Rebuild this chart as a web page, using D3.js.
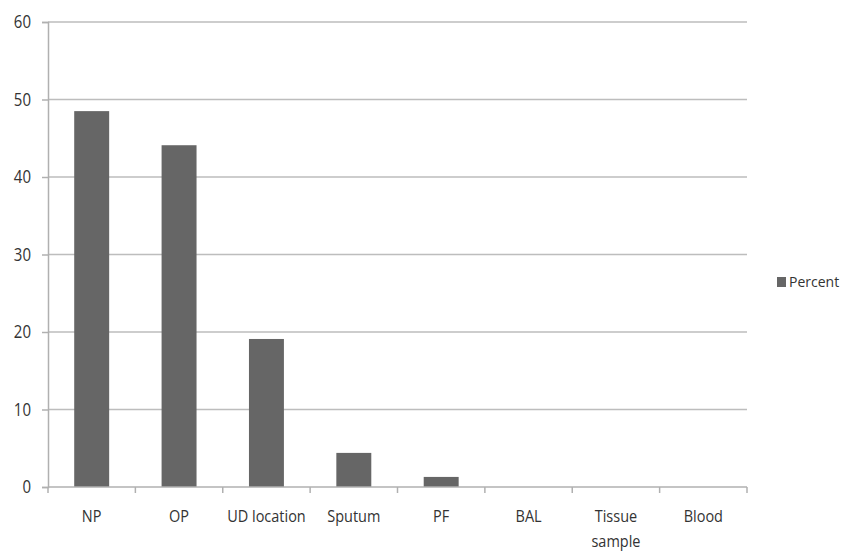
<!DOCTYPE html>
<html>
<head>
<meta charset="utf-8">
<script src="https://cdn.jsdelivr.net/npm/d3@7"></script>
<style>
  html, body { margin: 0; padding: 0; background: #fff; }
  svg { display: block; }
  text { font-family: "Open Sans", "DejaVu Sans", sans-serif; fill: #333333; }
</style>
</head>
<body>
<svg id="chart" width="847" height="551"></svg>
<script>
const categories = ["NP", "OP", "UD location", "Sputum", "PF", "BAL", "Tissue sample", "Blood"];
const percentValues = [48.5, 44.1, 19.1, 4.4, 1.3, 0, 0, 0];
const yTicks = [0, 10, 20, 30, 40, 50, 60];
const seriesName = "Percent";

const svg = d3.select("#chart");
const x0 = 48, x1 = 747, y0 = 487, y1 = 22;
const stretch = 1.18;

const x = d3.scaleBand().domain(categories).range([x0, x1]).paddingInner(0.6).paddingOuter(0.3);
const y = d3.scaleLinear().domain([0, 60]).range([y0, y1]);

// gridlines
svg.append("g").selectAll("line").data(yTicks.filter(d => d > 0)).join("line")
  .attr("x1", x0).attr("x2", x1)
  .attr("y1", d => y(d)).attr("y2", d => y(d))
  .attr("stroke", "#bdbdbd").attr("stroke-width", 1.5);

// bars
svg.append("g").selectAll("rect").data(categories).join("rect")
  .attr("x", d => x(d))
  .attr("width", x.bandwidth())
  .attr("y", (d, i) => y(percentValues[i]))
  .attr("height", (d, i) => y(0) - y(percentValues[i]))
  .attr("fill", "#666666");

// y axis (ticks from d3 axis, labels drawn with vertical stretch)
const yAxis = d3.axisLeft(y).tickValues(yTicks).tickSize(6).tickFormat("");
const gy = svg.append("g").attr("transform", `translate(${x0},0)`).call(yAxis);
gy.select(".domain").attr("stroke", "#b0b0b0").attr("stroke-width", 1.5);
gy.selectAll(".tick line").attr("stroke", "#b0b0b0").attr("stroke-width", 1.5);
svg.append("g").selectAll("text").data(yTicks).join("text")
  .attr("text-anchor", "end")
  .attr("font-size", 15)
  .attr("transform", d => `translate(31,${y(d)}) scale(1,${stretch})`)
  .attr("dy", "0.36em")
  .text(d => d);

// x axis with boundary ticks
const gx = svg.append("g").attr("transform", `translate(0,${y0})`);
gx.append("line").attr("x1", x0).attr("x2", x1).attr("y1", 0).attr("y2", 0)
  .attr("stroke", "#b0b0b0").attr("stroke-width", 1.5);
const bounds = categories.map(c => x(c) - x.step() * x.paddingInner() / 2).concat([x1]);
bounds[0] = x0;
gx.selectAll("line.b").data(bounds).join("line").attr("class", "b")
  .attr("x1", d => d).attr("x2", d => d).attr("y1", 0).attr("y2", 6)
  .attr("stroke", "#b0b0b0").attr("stroke-width", 1.5);

// x labels
const labels = svg.append("g").selectAll("text").data(categories).join("text")
  .attr("text-anchor", "middle")
  .attr("font-size", 14.5)
  .attr("transform", d => `translate(${x(d) + x.bandwidth() / 2},${522}) scale(1,${stretch})`);
labels.each(function(d) {
  const t = d3.select(this);
  const parts = d === "Tissue sample" ? ["Tissue", "sample"] : [d];
  parts.forEach((p, i) => t.append("tspan").attr("x", 0).attr("dy", i === 0 ? 0 : 25 / stretch).text(p));
});

// legend
const lg = svg.append("g").attr("transform", "translate(777,277)");
lg.append("rect").attr("width", 9).attr("height", 10).attr("fill", "#666666");
lg.append("text").attr("font-size", 14)
  .attr("transform", `translate(12,10) scale(1,1.08)`).text(seriesName);
</script>
</body>
</html>
